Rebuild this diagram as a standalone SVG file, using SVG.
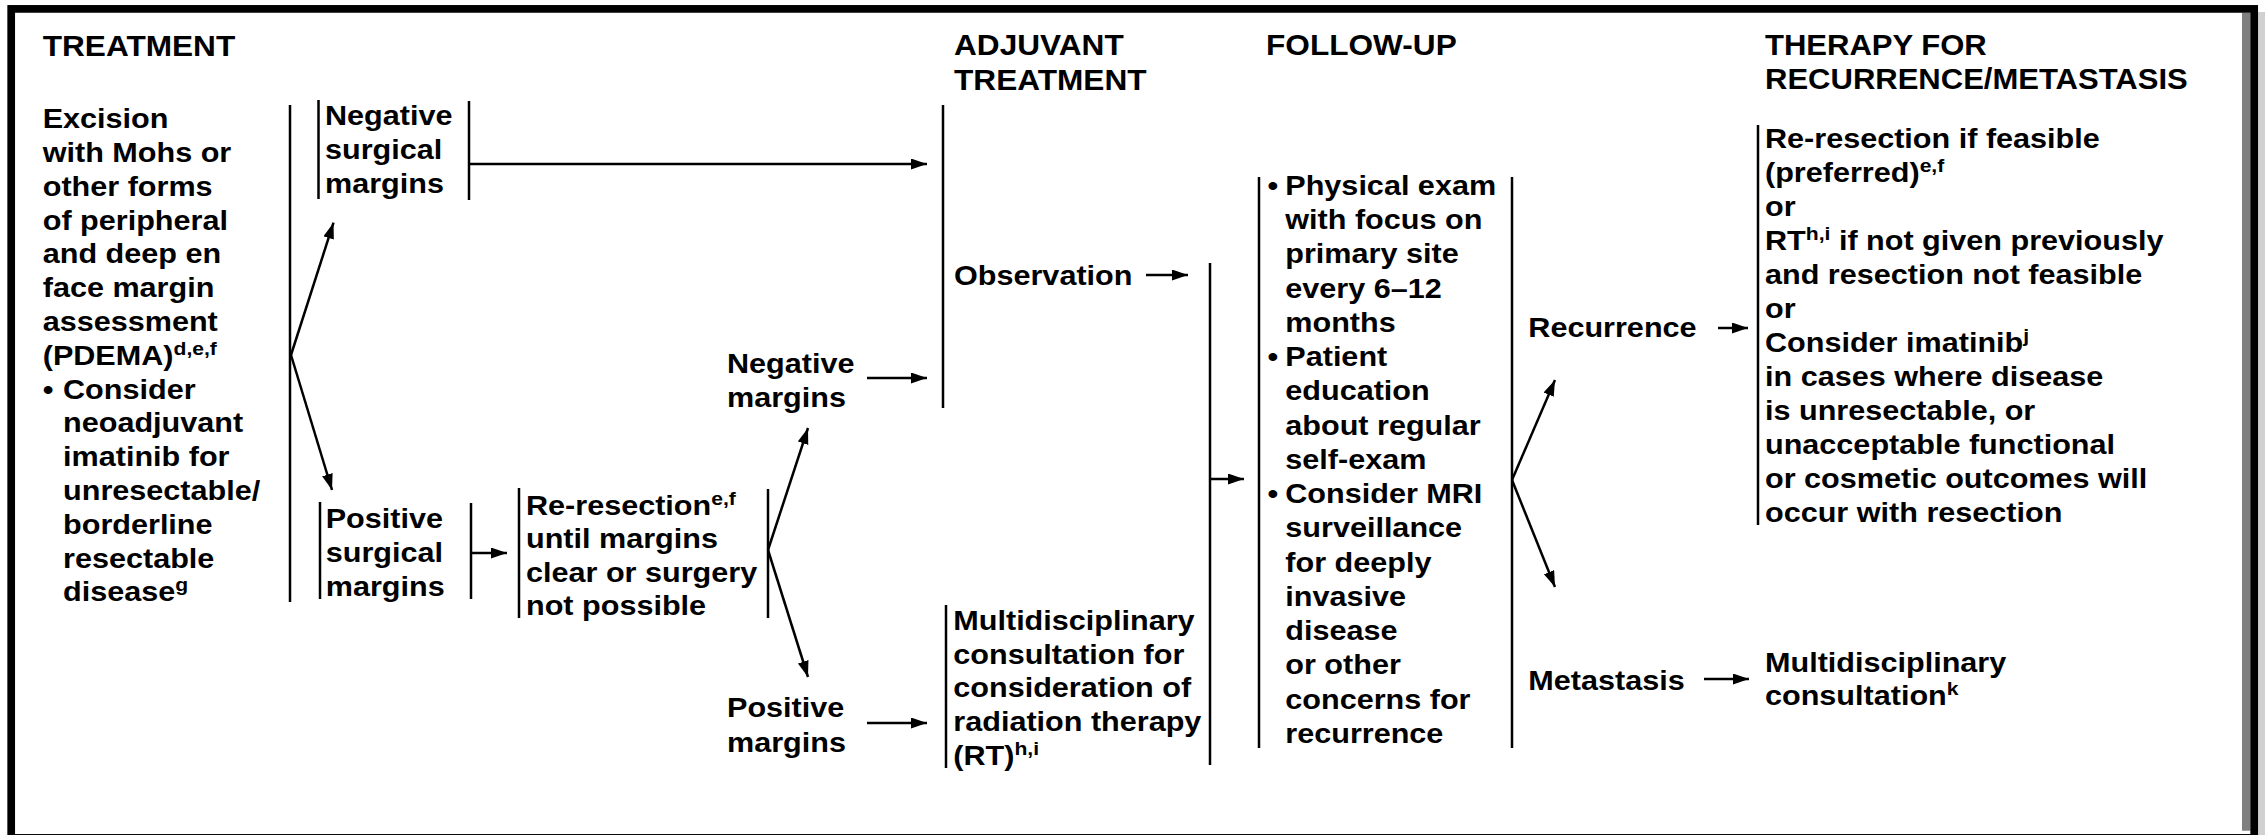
<svg xmlns="http://www.w3.org/2000/svg" width="2265" height="835" viewBox="0 0 2265 835">
  <style>
    .b { font-family: "Liberation Sans", Arial, Helvetica, sans-serif; font-weight: bold; font-size: 27.5px; fill: #000; }
    .h { font-family: "Liberation Sans", Arial, Helvetica, sans-serif; font-weight: bold; font-size: 29px; fill: #000; }
    .s { font-size: 19px; }
    .ln { stroke: #000; stroke-width: 2.5; fill: none; }
    .ar { stroke: #000; stroke-width: 2.5; fill: none; marker-end: url(#head); }
  </style>
  <defs>
    <marker id="head" markerUnits="userSpaceOnUse" markerWidth="17" markerHeight="12" refX="16" refY="5.5" orient="auto">
      <path d="M0,0 L16,5.5 L0,11 z" fill="#000"/>
    </marker>
  </defs>

  <rect width="2265" height="835" fill="#fff"/>

  <!-- page frame with drop shadow on the right -->
  <g id="frame">
    <rect x="2258" y="12" width="7" height="823" fill="#d0d0d0"/>
    <rect x="2242" y="12.7" width="8.5" height="818" fill="#7f7f7f"/>
    <rect x="11.2" y="8.9" width="2243" height="829" fill="none" stroke="#000" stroke-width="7.7"/>
  </g>

  <!-- column headers -->
  <g id="headers">
    <text class="h" transform="translate(42.7,56) scale(1.09,1)">TREATMENT</text>
    <text class="h" transform="translate(954,55) scale(1.09,1)"><tspan x="0" y="0">ADJUVANT</tspan><tspan x="0" y="35">TREATMENT</tspan></text>
    <text class="h" transform="translate(1266,55) scale(1.09,1)">FOLLOW-UP</text>
    <text class="h" transform="translate(1765,55) scale(1.07,1)"><tspan x="0" y="0">THERAPY FOR</tspan><tspan x="0" y="34.5">RECURRENCE/METASTASIS</tspan></text>
  </g>

  <g id="connectors">
    <line class="ln" x1="290" y1="105" x2="290" y2="602"/>
    <line class="ar" x1="291" y1="355" x2="333.5" y2="222.7"/>
    <line class="ar" x1="291" y1="355" x2="332" y2="490"/>
    <line class="ar" x1="470" y1="164" x2="927" y2="164"/>
    <line class="ar" x1="471" y1="553" x2="507" y2="553"/>
    <line class="ar" x1="768" y1="550" x2="808" y2="428"/>
    <line class="ar" x1="768" y1="550" x2="808" y2="677"/>
    <line class="ar" x1="867" y1="378" x2="927" y2="378"/>
    <line class="ar" x1="867" y1="723" x2="927" y2="723"/>
    <line class="ln" x1="943" y1="105" x2="943" y2="408"/>
    <line class="ar" x1="1146" y1="275" x2="1188" y2="275"/>
    <line class="ln" x1="1210" y1="263" x2="1210" y2="765"/>
    <line class="ar" x1="1210" y1="479" x2="1244" y2="479"/>
    <line class="ar" x1="1512" y1="480" x2="1555" y2="380"/>
    <line class="ar" x1="1512" y1="480" x2="1555" y2="587"/>
    <line class="ar" x1="1718" y1="328" x2="1748" y2="328"/>
    <line class="ar" x1="1704" y1="679" x2="1749" y2="679"/>
  </g>

  <g id="excision">
    <text class="b" transform="translate(42.7,128.3) scale(1.112,1)">
      <tspan x="0" y="0">Excision</tspan>
      <tspan x="0" y="33.8">with Mohs or</tspan>
      <tspan x="0" y="67.6">other forms</tspan>
      <tspan x="0" y="101.4">of peripheral</tspan>
      <tspan x="0" y="135.2">and deep en</tspan>
      <tspan x="0" y="169">face margin</tspan>
      <tspan x="0" y="202.8">assessment</tspan>
      <tspan x="0" y="236.6">(PDEMA)</tspan><tspan class="s" y="226.6">d,e,f</tspan>
      <tspan x="0" y="270.4">•</tspan><tspan x="18.3" y="270.4">Consider</tspan>
      <tspan x="18.3" y="304.2">neoadjuvant</tspan>
      <tspan x="18.3" y="338">imatinib for</tspan>
      <tspan x="18.3" y="371.8">unresectable/</tspan>
      <tspan x="18.3" y="405.6">borderline</tspan>
      <tspan x="18.3" y="439.4">resectable</tspan>
      <tspan x="18.3" y="473.2">disease</tspan><tspan class="s" y="463.2">g</tspan>
    </text>
  </g>

  <g id="neg-surgical">
    <line class="ln" x1="318.5" y1="100" x2="318.5" y2="199"/>
    <line class="ln" x1="469" y1="101" x2="469" y2="200"/>
    <text class="b" transform="translate(325,125) scale(1.112,1)">
      <tspan x="0" y="0">Negative</tspan>
      <tspan x="0" y="34">surgical</tspan>
      <tspan x="0" y="68">margins</tspan>
    </text>
  </g>

  <g id="pos-surgical">
    <line class="ln" x1="320" y1="502" x2="320" y2="599"/>
    <line class="ln" x1="471" y1="503" x2="471" y2="599"/>
    <text class="b" transform="translate(325.7,528) scale(1.112,1)">
      <tspan x="0" y="0">Positive</tspan>
      <tspan x="0" y="34">surgical</tspan>
      <tspan x="0" y="68">margins</tspan>
    </text>
  </g>

  <g id="re-resection">
    <line class="ln" x1="519" y1="488" x2="519" y2="618"/>
    <line class="ln" x1="768" y1="489" x2="768" y2="618"/>
    <text class="b" transform="translate(526,515) scale(1.112,1)">
      <tspan x="0" y="0">Re-resection</tspan><tspan class="s" y="-10">e,f</tspan>
      <tspan x="0" y="33.3">until margins</tspan>
      <tspan x="0" y="66.7">clear or surgery</tspan>
      <tspan x="0" y="100">not possible</tspan>
    </text>
  </g>

  <g id="neg-margins">
    <text class="b" transform="translate(727,373) scale(1.112,1)">
      <tspan x="0" y="0">Negative</tspan>
      <tspan x="0" y="34">margins</tspan>
    </text>
  </g>

  <g id="pos-margins">
    <text class="b" transform="translate(727,717) scale(1.112,1)">
      <tspan x="0" y="0">Positive</tspan>
      <tspan x="0" y="35">margins</tspan>
    </text>
  </g>

  <g id="observation">
    <text class="b" transform="translate(954,285) scale(1.112,1)">Observation</text>
  </g>

  <g id="rt-consult">
    <line class="ln" x1="946" y1="605" x2="946" y2="768"/>
    <text class="b" transform="translate(953.3,630) scale(1.112,1)">
      <tspan x="0" y="0">Multidisciplinary</tspan>
      <tspan x="0" y="33.75">consultation for</tspan>
      <tspan x="0" y="67.5">consideration of</tspan>
      <tspan x="0" y="101.25">radiation therapy</tspan>
      <tspan x="0" y="135">(RT)</tspan><tspan class="s" y="125">h,i</tspan>
    </text>
  </g>

  <g id="follow-up">
    <line class="ln" x1="1259" y1="177" x2="1259" y2="748"/>
    <line class="ln" x1="1512" y1="177" x2="1512" y2="748"/>
    <text class="b" transform="translate(1267.4,195) scale(1.112,1)">
      <tspan x="0" y="0">•</tspan><tspan x="16.1" y="0">Physical exam</tspan>
      <tspan x="16.1" y="34.25">with focus on</tspan>
      <tspan x="16.1" y="68.5">primary site</tspan>
      <tspan x="16.1" y="102.75">every 6–12</tspan>
      <tspan x="16.1" y="137">months</tspan>
      <tspan x="0" y="171.25">•</tspan><tspan x="16.1" y="171.25">Patient</tspan>
      <tspan x="16.1" y="205.5">education</tspan>
      <tspan x="16.1" y="239.75">about regular</tspan>
      <tspan x="16.1" y="274">self-exam</tspan>
      <tspan x="0" y="308.25">•</tspan><tspan x="16.1" y="308.25">Consider MRI</tspan>
      <tspan x="16.1" y="342.5">surveillance</tspan>
      <tspan x="16.1" y="376.75">for deeply</tspan>
      <tspan x="16.1" y="411">invasive</tspan>
      <tspan x="16.1" y="445.25">disease</tspan>
      <tspan x="16.1" y="479.5">or other</tspan>
      <tspan x="16.1" y="513.75">concerns for</tspan>
      <tspan x="16.1" y="548">recurrence</tspan>
    </text>
  </g>

  <g id="recurrence">
    <text class="b" transform="translate(1528.3,336.7) scale(1.112,1)">Recurrence</text>
  </g>

  <g id="metastasis">
    <text class="b" transform="translate(1528.3,690) scale(1.112,1)">Metastasis</text>
  </g>

  <g id="recurrence-therapy">
    <line class="ln" x1="1758" y1="125" x2="1758" y2="525"/>
    <text class="b" transform="translate(1765,148.3) scale(1.112,1)">
      <tspan x="0" y="0">Re-resection if feasible</tspan>
      <tspan x="0" y="34">(preferred)</tspan><tspan class="s" y="24">e,f</tspan>
      <tspan x="0" y="68">or</tspan>
      <tspan x="0" y="102">RT</tspan><tspan class="s" y="92">h,i</tspan><tspan y="102"> if not given previously</tspan>
      <tspan x="0" y="136">and resection not feasible</tspan>
      <tspan x="0" y="170">or</tspan>
      <tspan x="0" y="204">Consider imatinib</tspan><tspan class="s" y="194">j</tspan>
      <tspan x="0" y="238">in cases where disease</tspan>
      <tspan x="0" y="272">is unresectable, or</tspan>
      <tspan x="0" y="306">unacceptable functional</tspan>
      <tspan x="0" y="340">or cosmetic outcomes will</tspan>
      <tspan x="0" y="374">occur with resection</tspan>
    </text>
  </g>

  <g id="metastasis-therapy">
    <text class="b" transform="translate(1765,671.7) scale(1.112,1)">
      <tspan x="0" y="0">Multidisciplinary</tspan>
      <tspan x="0" y="33.3">consultation</tspan><tspan class="s" y="23.3">k</tspan>
    </text>
  </g>
</svg>
